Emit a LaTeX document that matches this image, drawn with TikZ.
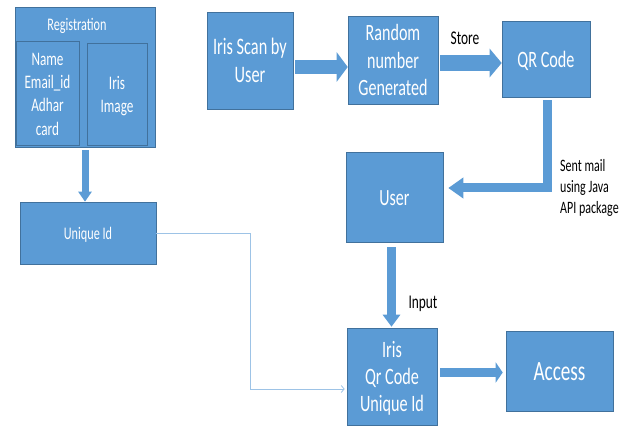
\documentclass[tikz,border=0pt]{standalone}
\usepackage{fontspec}
\setmainfont{Carlito}
\usetikzlibrary{arrows.meta}
\definecolor{boxblue}{HTML}{5B9BD5}
\definecolor{boxline}{HTML}{41719C}
\definecolor{linkblue}{HTML}{9DC3E6}
\newcommand{\tall}[2][c]{\scalebox{1}[1.45]{\raisebox{0pt}[\dimexpr\height+3.5pt\relax]{\begin{tabular}{@{}#1@{}}#2\end{tabular}}}}
\tikzset{
  box/.style={draw=boxline, fill=boxblue, text=white, inner sep=0pt, line width=0.6pt},
  fat/.style={draw=boxblue, line width=#1},
  lbl/.style={inner sep=0pt, text=black, font=\fontsize{13.4}{16}\selectfont},
}
\begin{document}
\begin{tikzpicture}[x=1pt, y=-1pt]
      \useasboundingbox (0,0) rectangle (633,428);
      % registration block
      \node[box, minimum width=140, minimum height=140] (reg) at (85,77){};
      \node[inner sep=0pt, text=white, font=\fontsize{12.2}{15}\selectfont] (regtitle) at (77,24){\tall{Registration}};
      \node[box, minimum width=63, minimum height=104, font=\fontsize{13.2}{16.2}\selectfont] (regdata) at (47.5,93){\tall{Name\\Email\_id\\Adhar\\card}};
      \node[box, minimum width=60, minimum height=102, font=\fontsize{13.2}{16.2}\selectfont] (regiris) at (117,94){\tall{Iris\\Image}};
      \node[box, minimum width=136, minimum height=62, font=\fontsize{12.2}{15}\selectfont] (uid) at (88,233){\tall{Unique Id}};
      % scan chain
      \node[box, minimum width=86, minimum height=97, font=\fontsize{16.3}{19.3}\selectfont] (scan) at (250,60.5){\tall{Iris Scan by\\User}};
      \node[box, minimum width=90, minimum height=88, font=\fontsize{16.1}{19}\selectfont] (rand) at (393,60){\tall{Random\\number\\Generated}};
      \node[box, minimum width=88, minimum height=76, font=\fontsize{16.2}{19}\selectfont] (qr) at (546,59){\tall{QR Code}};
      \node[box, minimum width=97, minimum height=90, font=\fontsize{16}{19}\selectfont] (user) at (394.5,197){\tall{User}};
      \node[box, minimum width=90, minimum height=97, font=\fontsize{16.2}{18.6}\selectfont] (iris) at (392,376.5){\tall{Iris\\Qr Code\\Unique Id}};
      \node[box, minimum width=107, minimum height=80, font=\fontsize{19.2}{23}\selectfont] (access) at (559.5,371){\tall{Access}};
      % labels
      \node[lbl] (store) at (465,37){\tall{Store}};
      \node[lbl, anchor=west, font=\fontsize{12}{14.5}\selectfont] (mail) at (560,186){\tall[l]{Sent mail\\using Java\\API package}};
      \node[lbl] (input) at (423,301){\tall{Input}};
      % arrows
      \draw[fat=7pt, -{Triangle[width=13pt,length=10pt]}, shorten <=3pt] (reg.south) -- (reg.south |- uid.north);
      \draw[fat=14pt, -{Triangle[width=29pt,length=11pt]}, shorten <=2pt] ([yshift=-6.5pt]scan.east) -- ([yshift=-6.5pt]scan.east -| rand.west);
      \draw[fat=16pt, -{Triangle[width=28pt,length=12pt]}, shorten <=2pt] ([yshift=-3pt]rand.east) -- ([yshift=-3pt]rand.east -| qr.west);
      \draw[fat=9pt, -{Triangle[width=20pt,length=15pt]}, shorten <=3pt] ([xshift=1pt]qr.south) |- ([yshift=9pt,xshift=5pt]user.east);
      \draw[fat=9pt, -{Triangle[width=17pt,length=12pt]}, shorten <=5pt, shorten >=1pt] ([xshift=-3pt]user.south) -- ([xshift=-3pt]user.south |- iris.north);
      \draw[fat=9pt, -{Triangle[width=20pt,length=7pt]}, shorten <=3pt, shorten >=3pt] ([yshift=4pt]iris.east) -- ([yshift=4pt]iris.east -| access.west);
      \draw[linkblue, line width=0.8pt, -{Straight Barb[length=3pt,width=7pt]}] (uid.east) -- ++(94,0) |- ([yshift=-12.5pt,xshift=-2pt]iris.west);
\end{tikzpicture}
\end{document}
